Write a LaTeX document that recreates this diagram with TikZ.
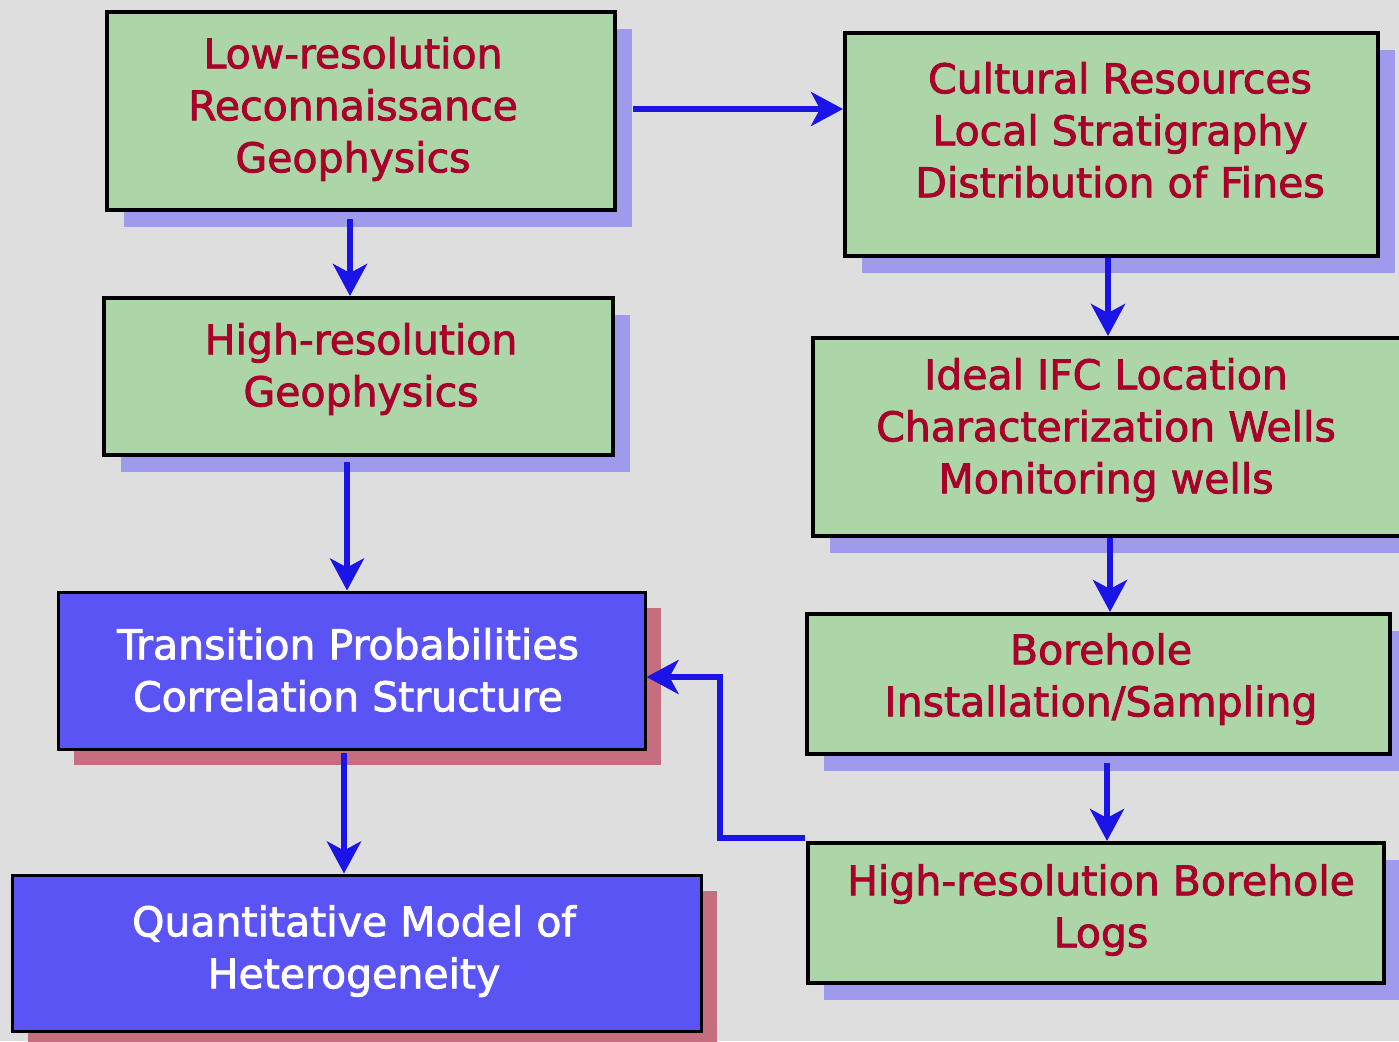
\documentclass[tikz,border=0pt]{standalone}
\usepackage{fontspec}
\setmainfont{DejaVu Sans}
\newfontfamily\boxfont[FakeBold=2]{DejaVu Sans}
\usetikzlibrary{arrows.meta}
\definecolor{bg}{RGB}{222,222,222}
\definecolor{boxgreen}{RGB}{172,214,168}
\definecolor{boxblue}{RGB}{91,84,245}
\definecolor{txtred}{RGB}{168,0,42}
\definecolor{shblue}{RGB}{158,155,236}
\definecolor{shred}{RGB}{198,110,128}
\definecolor{arrblue}{RGB}{26,20,230}
\tikzset{
  gbox/.style={draw=black, line width=4pt, fill=boxgreen, inner sep=0pt},
  bbox/.style={draw=black, line width=3pt, fill=boxblue, inner sep=0pt},
  shb/.style={fill=shblue, inner sep=0pt},
  shr/.style={fill=shred, inner sep=0pt},
  gtxt/.style={text=txtred, align=center, font=\boxfont\fontsize{41}{52}\selectfont, inner sep=0pt},
  btxt/.style={text=white, align=center, font=\boxfont\fontsize{41}{52}\selectfont, inner sep=0pt},
  arr/.style={draw=arrblue, line width=6pt, -{Stealth[length=32pt,width=34pt,inset=9pt]}}
}
\begin{document}
\begin{tikzpicture}[x=1pt,y=-1pt]
\useasboundingbox[fill=bg] (0,0) rectangle (1399,1041);
% shadows
\node[shb, minimum width=508, minimum height=198] (s1) at (378,128) {};
\node[shb, minimum width=509, minimum height=157] (s2) at (375.5,393.5) {};
\node[shb, minimum width=533, minimum height=223] (s3) at (1128.5,161.5) {};
\node[shb, minimum width=589, minimum height=198] (s4) at (1124.5,454) {};
\node[shb, minimum width=583, minimum height=140] (s5) at (1115.5,701) {};
\node[shb, minimum width=576, minimum height=140] (s6) at (1112,930) {};
\node[shr, minimum width=587, minimum height=157] (s7) at (367.5,686.5) {};
\node[shr, minimum width=689, minimum height=156] (s8) at (372.5,969) {};
% boxes
\node[gbox, minimum width=508, minimum height=198] (b1) at (361,111) {};
\node[gbox, minimum width=509, minimum height=157] (b2) at (358.5,376.5) {};
\node[gbox, minimum width=533, minimum height=223] (b3) at (1111.5,144.5) {};
\node[gbox, minimum width=589, minimum height=198] (b4) at (1107.5,437) {};
\node[gbox, minimum width=583, minimum height=140] (b5) at (1098.5,684) {};
\node[gbox, minimum width=576, minimum height=140] (b6) at (1096,913) {};
\node[bbox, minimum width=587, minimum height=157] (b7) at (351.5,670.5) {};
\node[bbox, minimum width=689, minimum height=156] (b8) at (356.5,953) {};
% texts
\node[gtxt] (t1) at (353,109) {Low-resolution\\Reconnaissance\\Geophysics};
\node[gtxt] (t2) at (361,369) {High-resolution\\Geophysics};
\node[gtxt] (t3) at (1120,130) {Cultural Resources\\Local Stratigraphy\\Distribution of Fines};
\node[gtxt] (t4) at (1106,430) {Ideal IFC Location\\Characterization Wells\\Monitoring wells};
\node[gtxt] (t5) at (1101,679) {Borehole\\Installation/Sampling};
\node[gtxt] (t6) at (1101,910) {High-resolution Borehole\\Logs};
\node[btxt] (t7) at (348,670) {Transition Probabilities\\Correlation Structure};
\node[btxt] (t8) at (354,951) {Quantitative Model of\\Heterogeneity};
% connector coordinates
\coordinate (a1s) at (633,109);
\coordinate (a2s) at (350,219);
\coordinate (a3s) at (1108,258);
\coordinate (a4s) at (1110,538);
\coordinate (a5s) at (1107,763);
\coordinate (a6s) at (347,462);
\coordinate (a7s) at (344,753);
\coordinate (a8s) at (805,838);
\coordinate (a8m) at (720,677);
% connectors
\draw[arr] (a1s) -- (a1s -| b3.west);
\draw[arr] (a2s) -- (a2s |- b2.north);
\draw[arr] (a3s) -- (a3s |- b4.north);
\draw[arr] (a4s) -- (a4s |- b5.north);
\draw[arr] (a5s) -- (a5s |- b6.north);
\draw[arr] (a6s) -- (a6s |- b7.north);
\draw[arr] (a7s) -- (a7s |- b8.north);
\draw[arr] (a8s) -| (a8m) -- (a8m -| b7.east);
\end{tikzpicture}
\end{document}
